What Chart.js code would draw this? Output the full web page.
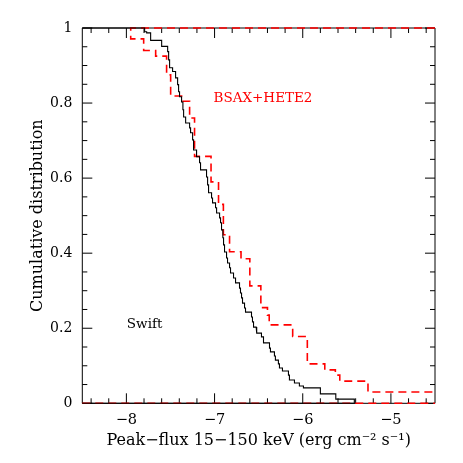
<!DOCTYPE html>
<html>
<head>
<meta charset="utf-8">
<script src="https://cdn.jsdelivr.net/npm/chart.js@4/dist/chart.umd.min.js"></script>
<style>
  html, body { margin: 0; padding: 0; background: #fff; }
  #wrap { width: 463px; height: 463px; }
</style>
</head>
<body>
<div id="wrap"><canvas id="c" width="463" height="463"></canvas></div>
<script>
// ---- data ----
// Swift: flux (log10) where the cumulative fraction steps down, and the level after the step
const swiftFlux  = [-7.793,-7.770,-7.725,-7.600,-7.532,-7.521,-7.510,-7.476,-7.442,-7.419,-7.408,-7.397,-7.374,-7.359,-7.351,-7.328,-7.283,-7.272,-7.249,-7.238,-7.204,-7.170,-7.159,-7.091,-7.079,-7.068,-7.034,-7.023,-6.989,-6.977,-6.943,-6.932,-6.921,-6.906,-6.898,-6.887,-6.864,-6.853,-6.830,-6.819,-6.785,-6.762,-6.717,-6.706,-6.694,-6.683,-6.660,-6.649,-6.581,-6.570,-6.558,-6.528,-6.519,-6.468,-6.445,-6.377,-6.366,-6.321,-6.310,-6.276,-6.264,-6.230,-6.162,-6.151,-6.094,-6.038,-5.992,-5.800,-5.625,-5.415];
const swiftLevel = [0.990,0.987,0.967,0.951,0.937,0.915,0.894,0.884,0.867,0.849,0.830,0.817,0.803,0.782,0.763,0.747,0.734,0.721,0.702,0.675,0.657,0.641,0.622,0.603,0.582,0.561,0.547,0.534,0.521,0.507,0.494,0.481,0.462,0.441,0.422,0.403,0.387,0.374,0.361,0.347,0.334,0.321,0.307,0.294,0.281,0.267,0.254,0.243,0.230,0.217,0.203,0.195,0.187,0.177,0.161,0.147,0.137,0.126,0.115,0.105,0.094,0.086,0.075,0.062,0.054,0.046,0.041,0.025,0.011,0.000];
// BSAX+HETE2
const bsaxFlux  = [-7.951,-7.804,-7.668,-7.544,-7.498,-7.374,-7.283,-7.227,-7.040,-6.955,-6.900,-6.830,-6.700,-6.600,-6.475,-6.400,-6.380,-6.114,-5.948,-5.750,-5.630,-5.580,-5.260];
const bsaxLevel = [0.971,0.940,0.925,0.875,0.819,0.805,0.760,0.658,0.590,0.530,0.449,0.404,0.385,0.313,0.255,0.235,0.209,0.178,0.105,0.089,0.075,0.059,0.030];
// axes
const xRange = [-8.5, -4.5];
const yRange = [0, 1];
const xMajorTicks = [-8, -7, -6, -5];
const xMinorTicks = [-8.4,-8.2,-7.8,-7.6,-7.4,-7.2,-6.8,-6.6,-6.4,-6.2,-5.8,-5.6,-5.4,-5.2,-4.8,-4.6];
const yMajorTicks = [0, 0.2, 0.4, 0.6, 0.8, 1];
const yMinorTicks = [0.05,0.1,0.15,0.25,0.3,0.35,0.45,0.5,0.55,0.65,0.7,0.75,0.85,0.9,0.95];
const xTitle = 'Peak\u2212flux 15\u2212150 keV (erg cm\u207B\u00B2 s\u207B\u00B9)';
const yTitle = 'Cumulative distribution';
const labelBsax = 'BSAX+HETE2';
const labelSwift = 'Swift';

// ---- build step paths from the arrays ----
function stepPath(flux, level, startLevel) {
  const pts = [];
  let prev = startLevel;
  for (let i = 0; i < flux.length; i++) {
    pts.push({x: flux[i], y: prev});
    pts.push({x: flux[i], y: level[i]});
    prev = level[i];
  }
  return pts;
}
const swiftPts = [{x: xRange[0], y: 1}].concat(stepPath(swiftFlux, swiftLevel, 1));
swiftPts.push({x: xRange[0], y: 0});
const bsaxPts = [{x: xRange[1], y: 1}].concat(stepPath(bsaxFlux, bsaxLevel, 1));
bsaxPts.push({x: xRange[1], y: bsaxLevel[bsaxLevel.length - 1]});
bsaxPts.push({x: xRange[1], y: null});
bsaxPts.push({x: xRange[0], y: 0});
bsaxPts.push({x: xRange[1], y: 0});

const FONT = "'DejaVu Serif', serif";
const fmt = v => (v < 0 ? '\u2212' + Math.abs(v) : String(v));

const framePlugin = {
  id: 'frame',
  beforeDatasetsDraw(chart) {
    const {ctx, chartArea: a, scales: {x, y}} = chart;
    ctx.save();
    ctx.strokeStyle = '#000';
    ctx.lineWidth = 1;
    ctx.beginPath();
    ctx.rect(a.left, a.top, a.right - a.left, a.bottom - a.top);
    const major = 10, minor = 5;
    const xt = (v, len) => {
      const px = x.getPixelForValue(v);
      ctx.moveTo(px, a.bottom); ctx.lineTo(px, a.bottom - len);
      ctx.moveTo(px, a.top); ctx.lineTo(px, a.top + len);
    };
    const yt = (v, len) => {
      const py = y.getPixelForValue(v);
      ctx.moveTo(a.left, py); ctx.lineTo(a.left + len, py);
      ctx.moveTo(a.right, py); ctx.lineTo(a.right - len, py);
    };
    xMajorTicks.forEach(v => xt(v, major));
    xMinorTicks.forEach(v => xt(v, minor));
    yMajorTicks.forEach(v => yt(v, major));
    yMinorTicks.forEach(v => yt(v, minor));
    ctx.stroke();
    ctx.restore();
  },
  afterDatasetsDraw(chart) {
    const {ctx, scales: {x, y}} = chart;
    ctx.save();
    ctx.font = "13.5px " + FONT;
    ctx.textAlign = 'center';
    ctx.textBaseline = 'middle';
    ctx.fillStyle = '#ff0000';
    ctx.fillText(labelBsax, x.getPixelForValue(-6.451), y.getPixelForValue(0.811));
    ctx.fillStyle = '#000';
    ctx.fillText(labelSwift, x.getPixelForValue(-7.793), y.getPixelForValue(0.211));
    ctx.restore();
  }
};

new Chart(document.getElementById('c'), {
  type: 'scatter',
  data: {
    datasets: [
      {
        label: 'Swift',
        data: swiftPts,
        showLine: true,
        borderColor: '#000',
        borderWidth: 1.1,
        pointRadius: 0,
        fill: false,
        spanGaps: false,
        clip: 4,
        order: 0
      },
      {
        label: 'BSAX+HETE2',
        data: bsaxPts,
        showLine: true,
        borderColor: '#ff0000',
        borderWidth: 1.6,
        borderDash: [8, 5],
        pointRadius: 0,
        fill: false,
        spanGaps: false,
        clip: 4,
        order: 1
      }
    ]
  },
  options: {
    responsive: false,
    animation: false,
    devicePixelRatio: 1,
    layout: { padding: { left: 0, right: 28, top: 28, bottom: 0 } },
    plugins: { legend: { display: false }, tooltip: { enabled: false } },
    scales: {
      x: {
        type: 'linear',
        min: xRange[0], max: xRange[1],
        grid: { display: false, drawTicks: false },
        border: { display: false },
        afterBuildTicks: s => { s.ticks = xMajorTicks.map(v => ({value: v})); },
        afterFit: s => { s.height = 59.7; },
        ticks: { color: '#000', font: { family: FONT, size: 14.5 }, padding: 8, callback: v => fmt(v), maxRotation: 0 },
        title: { display: true, text: xTitle, color: '#000', font: { family: FONT, size: 16 }, padding: { top: 0, bottom: 13 } }
      },
      y: {
        type: 'linear',
        min: yRange[0], max: yRange[1],
        grid: { display: false, drawTicks: false },
        border: { display: false },
        afterBuildTicks: s => { s.ticks = yMajorTicks.map(v => ({value: v})); },
        afterFit: s => { s.width = 82.3; },
        ticks: { color: '#000', font: { family: FONT, size: 14 }, padding: 10, callback: v => fmt(v) },
        title: { display: true, text: yTitle, color: '#000', font: { family: FONT, size: 16 }, padding: { top: 28.5, bottom: 0 } }
      }
    }
  },
  plugins: [framePlugin]
});
</script>
</body>
</html>
